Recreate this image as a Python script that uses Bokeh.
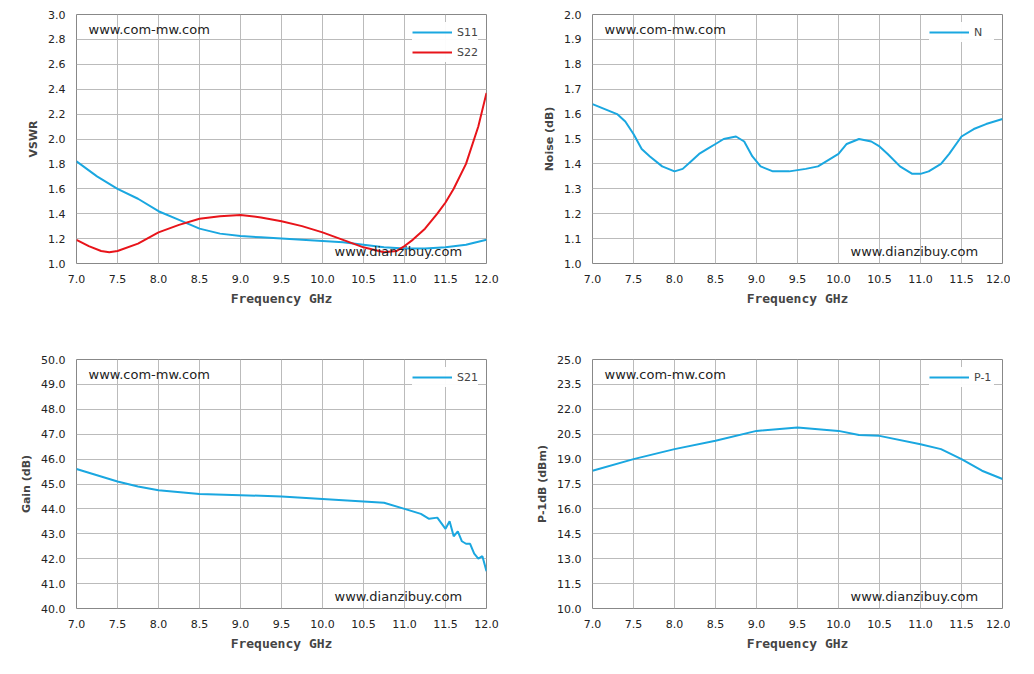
from bokeh.plotting import figure
from bokeh.layouts import gridplot
from bokeh.models import Label, Legend, FixedTicker
from bokeh.embed import file_html
from bokeh.resources import INLINE

s11_x = [7.0,7.25,7.5,7.75,8.0,8.25,8.5,8.75,9.0,9.25,9.5,9.75,10.0,10.25,10.5,10.75,11.0,11.25,11.5,11.75,12.0]
s11_y = [1.82,1.70,1.60,1.52,1.42,1.35,1.28,1.24,1.22,1.21,1.20,1.19,1.18,1.17,1.15,1.13,1.12,1.12,1.13,1.15,1.19]
s22_x = [7.0,7.15,7.3,7.4,7.5,7.75,8.0,8.25,8.5,8.75,9.0,9.25,9.5,9.75,10.0,10.25,10.5,10.75,10.9,11.0,11.1,11.25,11.4,11.5,11.6,11.75,11.9,12.0]
s22_y = [1.19,1.14,1.10,1.09,1.10,1.16,1.25,1.31,1.36,1.38,1.39,1.37,1.34,1.30,1.25,1.19,1.13,1.09,1.10,1.14,1.19,1.28,1.40,1.49,1.60,1.80,2.10,2.37]
n_x = [7.0,7.15,7.3,7.4,7.5,7.6,7.7,7.85,8.0,8.1,8.2,8.3,8.4,8.5,8.6,8.75,8.85,8.95,9.05,9.2,9.4,9.6,9.75,9.9,10.0,10.1,10.25,10.4,10.5,10.6,10.75,10.9,11.0,11.1,11.25,11.35,11.5,11.65,11.8,12.0]
n_y = [1.64,1.62,1.60,1.57,1.52,1.46,1.43,1.39,1.37,1.38,1.41,1.44,1.46,1.48,1.50,1.51,1.49,1.43,1.39,1.37,1.37,1.38,1.39,1.42,1.44,1.48,1.50,1.49,1.47,1.44,1.39,1.36,1.36,1.37,1.40,1.44,1.51,1.54,1.56,1.58]
g_x = [7.0,7.1,7.2,7.5,7.75,8.0,8.5,9.0,9.5,10.0,10.5,10.75,11.0,11.2,11.3,11.4,11.5,11.55,11.6,11.65,11.7,11.75,11.8,11.85,11.9,11.95,12.0]
g_y = [45.6,45.5,45.4,45.1,44.9,44.75,44.6,44.55,44.5,44.4,44.3,44.25,44.0,43.8,43.6,43.65,43.2,43.5,42.9,43.1,42.7,42.6,42.6,42.2,42.0,42.1,41.5]
p_x = [7.0,7.5,8.0,8.5,9.0,9.5,10.0,10.25,10.5,11.0,11.25,11.5,11.75,12.0]
p_y = [18.3,19.0,19.6,20.1,20.7,20.9,20.7,20.45,20.4,19.9,19.6,19.0,18.3,17.8]

x_ticks = [7.0,7.5,8.0,8.5,9.0,9.5,10.0,10.5,11.0,11.5,12.0]
BLUE = "#1aa7e0"; RED = "#e8141a"

def mk(ylab, yr, yticks, fmt, series, bl, br, bt, bb):
    p = figure(frame_width=410, frame_height=249, x_range=(7, 12), y_range=yr,
               output_backend="svg", toolbar_location=None,
               min_border_left=bl, min_border_right=br, min_border_top=bt, min_border_bottom=bb)
    p.outline_line_color = "#888888"
    p.xaxis.ticker = FixedTicker(ticks=x_ticks)
    p.yaxis.ticker = FixedTicker(ticks=yticks)
    p.xaxis.major_label_overrides = {t: "%.1f" % t for t in x_ticks}
    p.yaxis.major_label_overrides = {t: fmt % t for t in yticks}
    for ax in (p.xaxis, p.yaxis):
        ax.major_label_text_font = "DejaVu Sans"
        ax.major_label_text_font_size = "11px"
        ax.major_label_text_color = "#222222"
        ax.axis_line_color = None
        ax.major_tick_line_color = None
        ax.minor_tick_line_color = None
    p.xaxis.axis_label = "Frequency GHz"
    p.xaxis.axis_label_text_font = "DejaVu Sans Mono"
    p.xaxis.axis_label_text_font_style = "bold"
    p.xaxis.axis_label_text_font_size = "13px"
    p.yaxis.axis_label = ylab
    p.yaxis.axis_label_text_font = "DejaVu Sans"
    p.yaxis.axis_label_text_font_style = "bold"
    p.yaxis.axis_label_text_font_size = "11px"
    p.grid.grid_line_color = "#bbbbbb"
    p.grid.grid_line_alpha = 1
    items = []
    for name, xs, ys, c in series:
        r = p.line(xs, ys, color=c, line_width=2)
        items.append((name, [r]))
    lg = Legend(items=items, location="top_right", border_line_color=None,
                label_text_font="DejaVu Sans", label_text_font_size="11px",
                glyph_width=40, spacing=0, padding=4, margin=8)
    p.add_layout(lg)
    p.add_layout(Label(x=12, y=249 - 22, x_units="screen", y_units="screen", text="www.com-mw.com",
                       text_font="DejaVu Sans", text_font_size="13px", text_color="#222222"))
    p.add_layout(Label(x=258, y=5, x_units="screen", y_units="screen", text="www.dianzibuy.com",
                       text_font="DejaVu Sans", text_font_size="13px", text_color="#222222"))
    return p

p1 = mk("VSWR", (1.0, 3.0), [1.0+0.2*i for i in range(11)], "%.1f",
        [("S11", s11_x, s11_y, BLUE), ("S22", s22_x, s22_y, RED)], 76, 31, 11, 68)
p2 = mk("Noise (dB)", (1.0, 2.0), [1.0+0.1*i for i in range(11)], "%.1f",
        [("N", n_x, n_y, BLUE)], 75, 8, 14, 65)
p3 = mk("Gain (dB)", (40.0, 50.0), [40.0+1.0*i for i in range(11)], "%.1f",
        [("S21", g_x, g_y, BLUE)], 76, 31, 31, 49)
p4 = mk("P-1dB (dBm)", (10.0, 25.0), [10.0+1.5*i for i in range(11)], "%.1f",
        [("P-1", p_x, p_y, BLUE)], 75, 8, 31, 49)

g = gridplot([[p1, p2], [p3, p4]], toolbar_location=None)
open("out.html", "w").write(file_html(g, INLINE))
